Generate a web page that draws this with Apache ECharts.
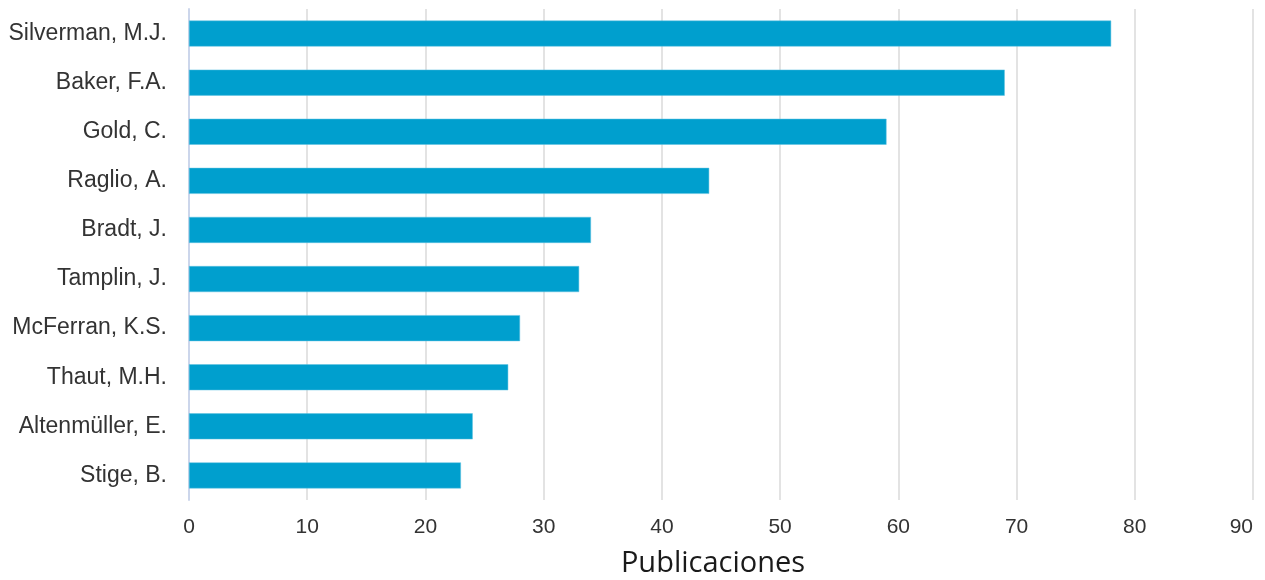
<!DOCTYPE html>
<html>
<head>
<meta charset="utf-8">
<script src="https://cdn.jsdelivr.net/npm/echarts@6/dist/echarts.min.js"></script>
<style>
  html, body { margin: 0; padding: 0; background: #fff; }
  #chart { width: 1265px; height: 580px; }
</style>
</head>
<body>
<div id="chart"></div>
<script>
// authors, listed top to bottom as in the picture
const authors = [
  "Silverman, M.J.",
  "Baker, F.A.",
  "Gold, C.",
  "Raglio, A.",
  "Bradt, J.",
  "Tamplin, J.",
  "McFerran, K.S.",
  "Thaut, M.H.",
  "Altenmüller, E.",
  "Stige, B."
];
const publications = [78, 69, 59, 44, 34, 33, 28, 27, 24, 23];
const xTicks = [0, 10, 20, 30, 40, 50, 60, 70, 80, 90];

const chart = echarts.init(document.getElementById("chart"), null, { renderer: "canvas" });

const option = {
  animation: false,
  grid: {
    left: 189,
    right: 12,
    top: 9,
    bottom: 80,
    containLabel: false,
    outerBoundsMode: "none"
  },
  xAxis: {
    type: "value",
    min: xTicks[0],
    max: xTicks[xTicks.length - 1],
    interval: 10,
    name: "Publicaciones",
    nameLocation: "middle",
    nameGap: 49,
    nameTextStyle: {
      fontFamily: "Open Sans",
      fontSize: 29,
      color: "#1a1a1a",
      padding: [0, 16, 0, 0]
    },
    axisLine: { show: false },
    axisTick: { show: false },
    axisLabel: {
      fontFamily: "Liberation Sans",
      fontSize: 21,
      color: "#333",
      margin: 17,
      alignMaxLabel: "right"
    },
    splitLine: {
      show: true,
      lineStyle: { color: "#e3e3e3", width: 2 }
    }
  },
  yAxis: {
    type: "category",
    data: authors,
    inverse: true,
    axisLine: {
      show: true,
      lineStyle: { color: "#ccd6eb", width: 2 }
    },
    axisTick: { show: false },
    axisLabel: {
      fontFamily: "Liberation Sans",
      fontSize: 23,
      color: "#333",
      margin: 22
    },
    splitLine: { show: false }
  },
  series: [
    {
      type: "bar",
      data: publications,
      barWidth: 26,
      itemStyle: {
        color: "#009fce",
        borderColor: "#5ec0e0",
        borderWidth: 0.5
      }
    }
  ]
};

chart.setOption(option);
</script>
</body>
</html>
